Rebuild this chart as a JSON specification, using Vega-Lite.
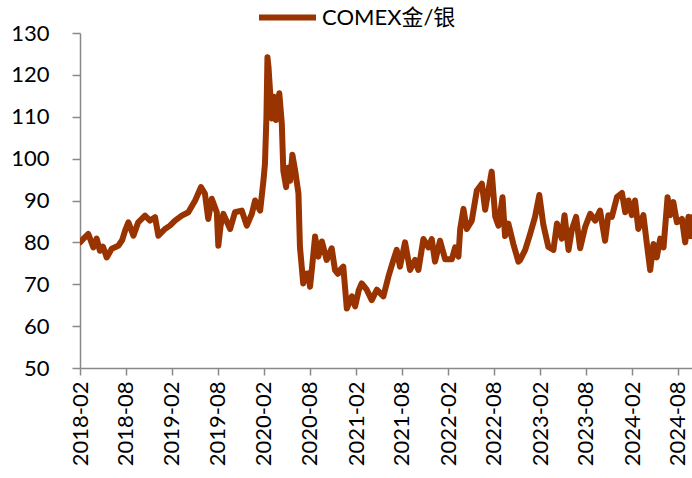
{
  "$schema": "https://vega.github.io/schema/vega-lite/v6.json",
  "width": 612,
  "height": 335,
  "autosize": {"type": "none"},
  "padding": {"left": 80, "top": 33, "right": 0, "bottom": 110},
  "background": "white",
  "config": {
    "view": {"stroke": null},
    "font": "Lato, Noto Sans CJK SC",
    "axis": {"labelFont": "Lato", "labelColor": "#000000", "domainColor": "#898989", "tickColor": "#898989", "domainWidth": 1.5, "tickWidth": 1.5, "grid": false, "title": null}
  },
  "data": {
    "values": [
      {"date": "2018-02-01", "series": "COMEX金/银", "ratio": 80.0},
      {"date": "2018-02-17", "series": "COMEX金/银", "ratio": 81.0},
      {"date": "2018-03-06", "series": "COMEX金/银", "ratio": 82.0},
      {"date": "2018-03-26", "series": "COMEX金/银", "ratio": 78.8},
      {"date": "2018-04-08", "series": "COMEX金/银", "ratio": 80.9},
      {"date": "2018-04-21", "series": "COMEX金/银", "ratio": 78.0},
      {"date": "2018-05-03", "series": "COMEX金/银", "ratio": 79.0},
      {"date": "2018-05-18", "series": "COMEX金/银", "ratio": 76.4},
      {"date": "2018-06-07", "series": "COMEX金/银", "ratio": 78.5},
      {"date": "2018-07-03", "series": "COMEX金/银", "ratio": 79.2},
      {"date": "2018-07-18", "series": "COMEX金/银", "ratio": 80.5},
      {"date": "2018-07-30", "series": "COMEX金/银", "ratio": 82.8},
      {"date": "2018-08-12", "series": "COMEX金/银", "ratio": 84.8},
      {"date": "2018-09-01", "series": "COMEX金/银", "ratio": 81.6},
      {"date": "2018-09-20", "series": "COMEX金/银", "ratio": 84.8},
      {"date": "2018-10-17", "series": "COMEX金/银", "ratio": 86.4},
      {"date": "2018-11-06", "series": "COMEX金/银", "ratio": 85.2},
      {"date": "2018-11-26", "series": "COMEX金/银", "ratio": 86.0},
      {"date": "2018-12-09", "series": "COMEX金/银", "ratio": 81.6},
      {"date": "2019-01-04", "series": "COMEX金/银", "ratio": 83.2},
      {"date": "2019-01-24", "series": "COMEX金/银", "ratio": 84.0},
      {"date": "2019-02-13", "series": "COMEX金/银", "ratio": 85.2},
      {"date": "2019-03-12", "series": "COMEX金/银", "ratio": 86.4},
      {"date": "2019-04-07", "series": "COMEX金/银", "ratio": 87.2},
      {"date": "2019-05-04", "series": "COMEX金/银", "ratio": 90.0},
      {"date": "2019-05-15", "series": "COMEX金/银", "ratio": 91.5},
      {"date": "2019-05-27", "series": "COMEX金/银", "ratio": 93.2},
      {"date": "2019-06-12", "series": "COMEX金/银", "ratio": 91.6},
      {"date": "2019-06-25", "series": "COMEX金/银", "ratio": 85.6},
      {"date": "2019-07-09", "series": "COMEX金/银", "ratio": 90.4},
      {"date": "2019-07-29", "series": "COMEX金/银", "ratio": 87.2},
      {"date": "2019-08-04", "series": "COMEX金/银", "ratio": 79.2},
      {"date": "2019-08-13", "series": "COMEX金/银", "ratio": 84.0},
      {"date": "2019-08-24", "series": "COMEX金/银", "ratio": 86.8},
      {"date": "2019-09-20", "series": "COMEX金/银", "ratio": 83.2},
      {"date": "2019-10-09", "series": "COMEX金/银", "ratio": 87.2},
      {"date": "2019-11-05", "series": "COMEX金/银", "ratio": 87.6},
      {"date": "2019-11-25", "series": "COMEX金/银", "ratio": 84.0},
      {"date": "2019-12-15", "series": "COMEX金/银", "ratio": 86.8},
      {"date": "2019-12-28", "series": "COMEX金/银", "ratio": 90.0},
      {"date": "2020-01-09", "series": "COMEX金/银", "ratio": 88.5},
      {"date": "2020-01-17", "series": "COMEX金/银", "ratio": 87.6},
      {"date": "2020-01-30", "series": "COMEX金/银", "ratio": 94.7},
      {"date": "2020-02-05", "series": "COMEX金/银", "ratio": 98.7},
      {"date": "2020-02-11", "series": "COMEX金/银", "ratio": 110.0},
      {"date": "2020-02-15", "series": "COMEX金/银", "ratio": 124.2},
      {"date": "2020-02-19", "series": "COMEX金/银", "ratio": 122.0},
      {"date": "2020-02-25", "series": "COMEX金/银", "ratio": 116.4},
      {"date": "2020-03-03", "series": "COMEX金/银", "ratio": 109.6},
      {"date": "2020-03-12", "series": "COMEX金/银", "ratio": 114.8},
      {"date": "2020-03-20", "series": "COMEX金/银", "ratio": 109.2},
      {"date": "2020-04-02", "series": "COMEX金/银", "ratio": 115.6},
      {"date": "2020-04-12", "series": "COMEX金/银", "ratio": 108.3},
      {"date": "2020-04-18", "series": "COMEX金/银", "ratio": 97.1},
      {"date": "2020-04-29", "series": "COMEX金/银", "ratio": 93.2},
      {"date": "2020-05-08", "series": "COMEX金/银", "ratio": 97.9},
      {"date": "2020-05-15", "series": "COMEX金/银", "ratio": 94.7},
      {"date": "2020-05-24", "series": "COMEX金/银", "ratio": 100.9},
      {"date": "2020-06-04", "series": "COMEX金/银", "ratio": 97.1},
      {"date": "2020-06-17", "series": "COMEX金/银", "ratio": 91.7},
      {"date": "2020-06-23", "series": "COMEX金/银", "ratio": 78.9},
      {"date": "2020-07-06", "series": "COMEX金/银", "ratio": 70.2},
      {"date": "2020-07-15", "series": "COMEX金/银", "ratio": 72.5},
      {"date": "2020-07-26", "series": "COMEX金/银", "ratio": 72.6},
      {"date": "2020-08-02", "series": "COMEX金/银", "ratio": 69.4},
      {"date": "2020-08-10", "series": "COMEX金/银", "ratio": 74.0},
      {"date": "2020-08-22", "series": "COMEX金/银", "ratio": 81.4},
      {"date": "2020-09-04", "series": "COMEX金/银", "ratio": 76.6},
      {"date": "2020-09-18", "series": "COMEX金/银", "ratio": 80.2},
      {"date": "2020-10-07", "series": "COMEX金/银", "ratio": 75.8},
      {"date": "2020-10-27", "series": "COMEX金/银", "ratio": 78.6},
      {"date": "2020-11-09", "series": "COMEX金/银", "ratio": 73.4},
      {"date": "2020-11-21", "series": "COMEX金/银", "ratio": 72.5},
      {"date": "2020-11-29", "series": "COMEX金/银", "ratio": 73.4},
      {"date": "2020-12-12", "series": "COMEX金/银", "ratio": 74.2},
      {"date": "2020-12-26", "series": "COMEX金/银", "ratio": 64.2},
      {"date": "2021-01-15", "series": "COMEX金/银", "ratio": 67.1},
      {"date": "2021-01-28", "series": "COMEX金/银", "ratio": 64.7},
      {"date": "2021-02-11", "series": "COMEX金/银", "ratio": 68.5},
      {"date": "2021-02-23", "series": "COMEX金/银", "ratio": 70.2},
      {"date": "2021-03-15", "series": "COMEX金/银", "ratio": 68.7},
      {"date": "2021-04-04", "series": "COMEX金/银", "ratio": 66.2},
      {"date": "2021-04-24", "series": "COMEX金/银", "ratio": 68.7},
      {"date": "2021-05-20", "series": "COMEX金/银", "ratio": 67.1},
      {"date": "2021-06-09", "series": "COMEX金/银", "ratio": 71.8},
      {"date": "2021-06-29", "series": "COMEX金/银", "ratio": 75.8},
      {"date": "2021-07-12", "series": "COMEX金/银", "ratio": 78.2},
      {"date": "2021-07-25", "series": "COMEX金/银", "ratio": 74.2},
      {"date": "2021-08-14", "series": "COMEX金/银", "ratio": 80.0},
      {"date": "2021-09-03", "series": "COMEX金/银", "ratio": 73.4},
      {"date": "2021-09-23", "series": "COMEX金/银", "ratio": 75.8},
      {"date": "2021-10-06", "series": "COMEX金/银", "ratio": 73.4},
      {"date": "2021-10-26", "series": "COMEX金/银", "ratio": 80.8},
      {"date": "2021-11-15", "series": "COMEX金/银", "ratio": 78.8},
      {"date": "2021-11-28", "series": "COMEX金/银", "ratio": 80.8},
      {"date": "2021-12-11", "series": "COMEX金/银", "ratio": 75.4},
      {"date": "2021-12-31", "series": "COMEX金/银", "ratio": 80.4},
      {"date": "2022-01-20", "series": "COMEX金/银", "ratio": 76.0},
      {"date": "2022-02-16", "series": "COMEX金/银", "ratio": 76.0},
      {"date": "2022-03-01", "series": "COMEX金/银", "ratio": 78.8},
      {"date": "2022-03-14", "series": "COMEX金/银", "ratio": 76.6},
      {"date": "2022-03-21", "series": "COMEX金/银", "ratio": 83.2},
      {"date": "2022-04-03", "series": "COMEX金/银", "ratio": 88.0},
      {"date": "2022-04-16", "series": "COMEX金/银", "ratio": 83.2},
      {"date": "2022-05-06", "series": "COMEX金/银", "ratio": 85.2},
      {"date": "2022-05-26", "series": "COMEX金/银", "ratio": 92.4},
      {"date": "2022-06-15", "series": "COMEX金/银", "ratio": 94.0},
      {"date": "2022-06-28", "series": "COMEX金/银", "ratio": 87.8},
      {"date": "2022-07-11", "series": "COMEX金/银", "ratio": 92.4},
      {"date": "2022-07-24", "series": "COMEX金/银", "ratio": 96.9},
      {"date": "2022-08-07", "series": "COMEX金/银", "ratio": 86.2},
      {"date": "2022-08-20", "series": "COMEX金/银", "ratio": 84.0},
      {"date": "2022-09-05", "series": "COMEX金/银", "ratio": 90.8},
      {"date": "2022-09-15", "series": "COMEX金/银", "ratio": 81.5},
      {"date": "2022-09-28", "series": "COMEX金/银", "ratio": 84.5},
      {"date": "2022-10-18", "series": "COMEX金/银", "ratio": 79.6},
      {"date": "2022-11-07", "series": "COMEX金/银", "ratio": 75.4},
      {"date": "2022-11-14", "series": "COMEX金/银", "ratio": 75.8},
      {"date": "2022-12-04", "series": "COMEX金/银", "ratio": 78.2},
      {"date": "2022-12-24", "series": "COMEX金/银", "ratio": 82.1},
      {"date": "2023-01-12", "series": "COMEX金/银", "ratio": 86.1},
      {"date": "2023-01-29", "series": "COMEX金/银", "ratio": 91.3},
      {"date": "2023-02-14", "series": "COMEX金/银", "ratio": 84.2},
      {"date": "2023-03-06", "series": "COMEX金/银", "ratio": 78.9},
      {"date": "2023-03-26", "series": "COMEX金/银", "ratio": 78.2},
      {"date": "2023-04-09", "series": "COMEX金/银", "ratio": 84.5},
      {"date": "2023-04-28", "series": "COMEX金/银", "ratio": 80.9},
      {"date": "2023-05-09", "series": "COMEX金/银", "ratio": 86.5},
      {"date": "2023-05-25", "series": "COMEX金/银", "ratio": 78.2},
      {"date": "2023-06-07", "series": "COMEX金/银", "ratio": 83.0},
      {"date": "2023-06-24", "series": "COMEX金/银", "ratio": 86.1},
      {"date": "2023-07-10", "series": "COMEX金/银", "ratio": 78.6},
      {"date": "2023-07-30", "series": "COMEX金/银", "ratio": 83.7},
      {"date": "2023-08-19", "series": "COMEX金/银", "ratio": 86.8},
      {"date": "2023-09-08", "series": "COMEX金/银", "ratio": 85.2},
      {"date": "2023-09-27", "series": "COMEX金/银", "ratio": 87.6},
      {"date": "2023-10-17", "series": "COMEX金/银", "ratio": 80.4},
      {"date": "2023-10-30", "series": "COMEX金/银", "ratio": 86.5},
      {"date": "2023-11-13", "series": "COMEX金/银", "ratio": 86.1},
      {"date": "2023-12-03", "series": "COMEX金/银", "ratio": 90.8},
      {"date": "2023-12-23", "series": "COMEX金/银", "ratio": 91.8},
      {"date": "2024-01-05", "series": "COMEX金/银", "ratio": 87.2},
      {"date": "2024-01-18", "series": "COMEX金/银", "ratio": 90.0},
      {"date": "2024-01-31", "series": "COMEX金/银", "ratio": 86.5},
      {"date": "2024-02-13", "series": "COMEX金/银", "ratio": 90.0},
      {"date": "2024-02-26", "series": "COMEX金/银", "ratio": 83.2},
      {"date": "2024-03-17", "series": "COMEX金/银", "ratio": 86.5},
      {"date": "2024-03-31", "series": "COMEX金/银", "ratio": 79.6},
      {"date": "2024-04-13", "series": "COMEX金/银", "ratio": 73.4},
      {"date": "2024-04-26", "series": "COMEX金/银", "ratio": 79.6},
      {"date": "2024-05-09", "series": "COMEX金/银", "ratio": 76.4},
      {"date": "2024-05-23", "series": "COMEX金/银", "ratio": 80.9},
      {"date": "2024-06-05", "series": "COMEX金/银", "ratio": 78.8},
      {"date": "2024-06-21", "series": "COMEX金/银", "ratio": 90.8},
      {"date": "2024-07-01", "series": "COMEX金/银", "ratio": 86.5},
      {"date": "2024-07-14", "series": "COMEX金/银", "ratio": 89.6},
      {"date": "2024-07-28", "series": "COMEX金/银", "ratio": 84.8},
      {"date": "2024-08-17", "series": "COMEX金/银", "ratio": 85.6},
      {"date": "2024-08-30", "series": "COMEX金/银", "ratio": 80.0},
      {"date": "2024-09-12", "series": "COMEX金/银", "ratio": 86.1},
      {"date": "2024-09-20", "series": "COMEX金/银", "ratio": 81.5},
      {"date": "2024-09-25", "series": "COMEX金/银", "ratio": 86.0}
    ]
  },
  "mark": {"type": "line", "strokeWidth": 6, "strokeJoin": "round", "strokeCap": "round", "clip": true},
  "encoding": {
    "x": {
      "field": "date",
      "type": "temporal",
      "scale": {"type": "utc", "domain": [{"year": 2018, "month": 2, "date": 1, "utc": true}, {"year": 2024, "month": 9, "date": 26, "utc": true}], "nice": false},
      "axis": {
        "values": [
          {"year": 2018, "month": 2, "date": 1, "utc": true},
          {"year": 2018, "month": 8, "date": 1, "utc": true},
          {"year": 2019, "month": 2, "date": 1, "utc": true},
          {"year": 2019, "month": 8, "date": 1, "utc": true},
          {"year": 2020, "month": 2, "date": 1, "utc": true},
          {"year": 2020, "month": 8, "date": 1, "utc": true},
          {"year": 2021, "month": 2, "date": 1, "utc": true},
          {"year": 2021, "month": 8, "date": 1, "utc": true},
          {"year": 2022, "month": 2, "date": 1, "utc": true},
          {"year": 2022, "month": 8, "date": 1, "utc": true},
          {"year": 2023, "month": 2, "date": 1, "utc": true},
          {"year": 2023, "month": 8, "date": 1, "utc": true},
          {"year": 2024, "month": 2, "date": 1, "utc": true},
          {"year": 2024, "month": 8, "date": 1, "utc": true}
        ],
        "format": "%Y-%m",
        "labelAngle": -90,
        "labelFontSize": 22,
        "labelPadding": 6,
        "tickSize": 7,
        "labelOverlap": false,
        "labelFlush": false
      }
    },
    "y": {
      "field": "ratio",
      "type": "quantitative",
      "scale": {"domain": [50, 130], "nice": false, "zero": false},
      "axis": {"values": [50, 60, 70, 80, 90, 100, 110, 120, 130], "labelFontSize": 22, "labelPadding": 23, "tickSize": 8}
    },
    "color": {
      "field": "series",
      "type": "nominal",
      "scale": {"range": ["#993300"]},
      "legend": {
        "title": null,
        "orient": "none",
        "legendX": 176,
        "legendY": -47,
        "symbolType": "stroke",
        "symbolStrokeWidth": 6,
        "symbolSize": 3249,
        "labelFontSize": 22,
        "labelFont": "Lato, Noto Sans CJK SC",
        "labelColor": "#000000",
        "labelOffset": 3,
        "padding": 0
      }
    }
  }
}
